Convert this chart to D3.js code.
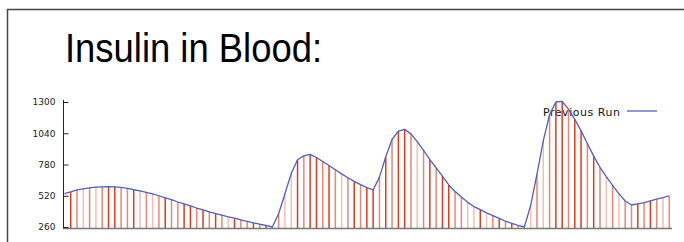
<!DOCTYPE html>
<html><head><meta charset="utf-8">
<script src="https://cdn.jsdelivr.net/npm/d3@7"></script>
<style>html,body{margin:0;padding:0;background:#fff;}svg{display:block}</style>
</head><body>
<svg id="c" width="684" height="242"></svg>
<script>
const title = "Insulin in Blood:";
const seriesName = "Previous Run";
const yTicks = [260, 520, 780, 1040, 1300];
// insulin level per sample (sample 0 is at the axis; bars drawn for 1..96)
const insulin = [538, 552, 568, 578, 586, 592, 594, 595, 594, 590,
  582, 570, 560, 548, 536, 520, 503, 487, 468, 452,
  436, 418, 402, 386, 372, 359, 345, 333, 320, 307,
  294, 283, 274, 260, 370, 537, 705, 820, 852, 864,
  838, 805, 772, 737, 702, 670, 640, 612, 587, 568,
  675, 845, 988, 1058, 1072, 1035, 970, 898, 820, 752,
  683, 610, 556, 510, 465, 430, 404, 377, 354, 331,
  308, 290, 274, 260, 440, 699, 977, 1195, 1300, 1305,
  1240, 1156, 1060, 955, 850, 757, 679, 607, 538, 476,
  443, 452, 462, 478, 492, 505, 520];
// bar tone for samples 1..96 (0 dark, 1 medium, 2 pale)
const barTone = [0,1,2,1,2,1,0,0,1,1,0,2,1,2,1,0,1,1,
  0,0,1,0,1,0,1,2,0,1,1,0,1,0,1,1,2,2,0,
  1,0,0,1,0,1,2,1,0,1,0,0,1,0,1,0,0,1,2,
  1,0,1,0,0,1,1,2,2,0,2,1,0,1,0,1,1,2,1,
  2,1,0,0,1,0,0,1,0,1,2,1,2,1,1,0,1,0,1,2,1];
const toneColors = ["#e2391c", "#ec8573", "#f5bdb3"];

const svg = d3.select("#c");
const x = d3.scaleLinear().domain([0, insulin.length - 1]).range([64.4, 669.3]);
const y = d3.scaleLinear().domain([260, 1300]).range([227, 102]);
const base = 228.5;

// frame
svg.append("path").attr("d", "M7.5,242V9.5H684").attr("fill", "none")
  .attr("stroke", "#444").attr("stroke-width", 1.5);

// title
svg.append("text").attr("x", 65).attr("y", 62)
  .attr("font-family", "Liberation Sans, Arial, sans-serif")
  .attr("font-size", 40).attr("textLength", 257).attr("lengthAdjust", "spacingAndGlyphs")
  .attr("fill", "#000").text(title);

// legend
const lg = svg.append("g");
lg.append("text").attr("x", 543).attr("y", 116)
  .attr("font-family", "DejaVu Sans, sans-serif").attr("font-size", 11)
  .attr("textLength", 77).attr("lengthAdjust", "spacing")
  .attr("fill", "#111").text(seriesName);
lg.append("line").attr("x1", 627).attr("x2", 657).attr("y1", 111).attr("y2", 111)
  .attr("stroke", "#5162b6").attr("stroke-width", 1.3);

// bars
const barData = insulin.slice(1).map((v, i) => ({i: i + 1, v, tone: barTone[i]}));
svg.append("g").selectAll("line").data(barData).join("line")
  .attr("x1", d => x(d.i)).attr("x2", d => x(d.i))
  .attr("y1", base).attr("y2", d => y(d.v))
  .attr("stroke", d => toneColors[d.tone]).attr("stroke-width", 1.5);

// x baseline
svg.append("line").attr("x1", 63).attr("x2", 672).attr("y1", base).attr("y2", base)
  .attr("stroke", "#777").attr("stroke-width", 1.5);

// line
svg.append("path").datum(insulin)
  .attr("d", d3.line().x((d, i) => x(i)).y(d => y(d)))
  .attr("fill", "none").attr("stroke", "#4f60b6").attr("stroke-width", 1.3)
  .attr("stroke-linejoin", "round");

// y axis
const ya = svg.append("g").attr("transform", "translate(63.5,0)")
  .call(d3.axisLeft(y).tickValues(yTicks).tickFormat(d3.format("d"))
    .tickSize(-5).tickSizeOuter(0).tickPadding(8));
ya.select(".domain").attr("stroke", "#222").attr("d", "M0,100V" + base);
ya.selectAll(".tick line").attr("stroke", "#222");
ya.selectAll("text").attr("font-family", "DejaVu Sans, sans-serif")
  .attr("font-size", 9).attr("fill", "#222");
</script>
</body></html>
